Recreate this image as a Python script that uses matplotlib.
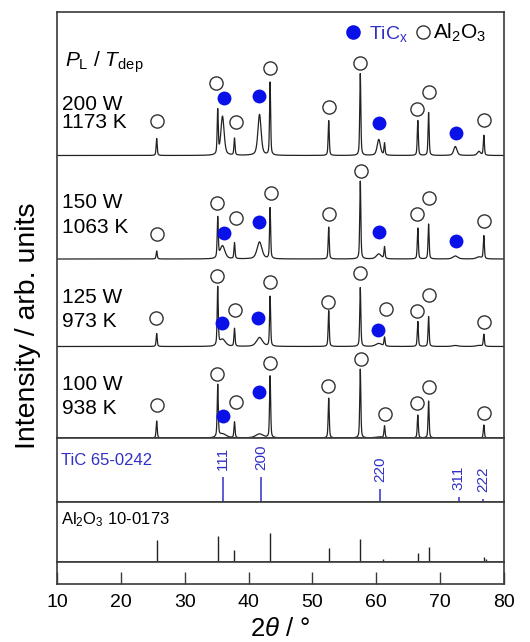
import numpy as np
import matplotlib
matplotlib.use("Agg")
import matplotlib.pyplot as plt

plt.rcParams['font.family'] = ['Liberation Sans', 'DejaVu Sans']
plt.rcParams['mathtext.fontset'] = 'custom'
plt.rcParams['mathtext.rm'] = 'Liberation Sans'
plt.rcParams['mathtext.it'] = 'Liberation Sans:italic'

# peak positions (2theta, deg)
al_angles = [25.58, 35.15, 37.78, 43.36, 52.55, 57.50, 61.30, 66.52, 68.21, 76.87]
tic_angles = [35.9, 41.7, 60.4, 72.4, 76.1]

# sample labels and vertical offsets of each pattern
labels_power = ['200 W', '150 W', '125 W', '100 W']
labels_temp = ['1173 K', '1063 K', '973 K', '938 K']
offsets = [282.5, 179, 91.5, 0]

al_heights = [
    [17, 44, 17, 73, 35, 82, 12, 35, 43, 20],
    [8, 40, 16, 51, 32, 78, 12, 31, 35, 23],
    [13, 58, 18, 50, 36, 59, 9, 25, 30, 12],
    [17, 52, 16, 62, 40, 69, 12, 23, 37, 13],
]
tic_heights = [
    [39, 41, 16, 9, 4],
    [13, 17, 5, 3, 2],
    [7, 9, 3, 1, 1],
    [4, 4, 1, 0, 0],
]
tic_hwhm = [0.3, 0.45, 0.55, 0.7]

# phase markers above the peaks (2theta, height above baseline)
open_x = [
    [25.6, 34.9, 38.0, 43.3, 52.6, 57.5, 66.4, 68.3, 76.9],
    [25.7, 35.1, 38.0, 43.5, 52.6, 57.6, 66.4, 68.3, 76.9],
    [25.5, 35.0, 37.8, 43.3, 52.5, 57.5, 61.6, 66.4, 68.3, 76.9],
    [25.6, 35.0, 38.0, 43.3, 52.5, 57.6, 61.4, 66.4, 68.3, 76.9],
]
open_y = [
    [34.5, 72.8, 33.8, 87.8, 48.2, 92.2, 46.2, 63.2, 35.5],
    [24.7, 55.7, 41.3, 65.7, 44.7, 88.3, 45, 60.7, 38.3],
    [28.2, 70.8, 36.5, 64.8, 44.8, 73.8, 37.2, 35.8, 51.5, 24.8],
    [33, 64, 35.7, 74.7, 52, 79, 23.7, 34.7, 51.3, 24.7],
]
filled_x = [
    [36.2, 41.6, 60.5, 72.5],
    [36.2, 41.6, 60.5, 72.5],
    [35.8, 41.4, 60.2],
    [35.9, 41.6],
]
filled_y = [
    [57.2, 59.8, 32.2, 22.2],
    [26.3, 36.7, 26.7, 18.3],
    [23.8, 28.2, 16.5],
    [22.3, 46.3],
]

# reference cards
tic_ref_angles = [36.0, 41.9, 60.6, 72.9, 76.8]
tic_ref_heights = [25, 25, 12.7, 5, 3]
tic_ref_hkl = ['111', '200', '220', '311', '222']
al_ref_angles = [25.58, 35.15, 37.78, 43.36, 46.18, 52.55, 57.50, 59.74, 61.12, 66.52, 68.21, 70.42, 74.30, 76.87, 77.23]
al_ref_heights = [22, 26, 12, 28.7, 1, 13.7, 23.3, 1.5, 3, 9.3, 15, 1, 1.5, 5.3, 3]

blue = '#0a10e8'
text_blue = '#3030c8'
frame = '#3a3a3a'


def peak(x, c, h, w):
    # pseudo-Voigt profile
    u = ((x - c) / w) ** 2
    return h * (0.5 / (1 + u) + 0.5 * np.exp(-np.log(2) * u))


def pattern(x, i):
    y = np.zeros_like(x)
    for c, h in zip(al_angles, al_heights[i]):
        y += peak(x, c, h, 0.1)
    for c, h in zip(tic_angles, tic_heights[i]):
        y += peak(x, c, h, tic_hwhm[i])
    return y


fig = plt.figure(figsize=(5.3, 6.42), dpi=100)
W, H = 530, 642
left, right = 57.3 / W, 503.8 / W


def add_panel(top_px, bottom_px):
    ax = fig.add_axes([left, 1 - bottom_px / H, right - left, (bottom_px - top_px) / H])
    ax.set_xlim(10, 80)
    for s in ax.spines.values():
        s.set_color(frame)
        s.set_linewidth(1.2)
    ax.set_xticks([])
    ax.set_yticks([])
    return ax


ax = add_panel(12, 438)
ax.set_ylim(0, 426)
x = np.linspace(10, 80, 4001)
for i in range(4):
    ax.plot(x, pattern(x, i) + offsets[i], color='#222222', lw=0.9, zorder=2)
    ax.plot(open_x[i], np.array(open_y[i]) + offsets[i], 'o', ms=9.5, mfc='white',
            mec='#333333', mew=1.0, zorder=3)
    ax.plot(filled_x[i], np.array(filled_y[i]) + offsets[i], 'o', ms=10, color=blue,
            mec='none', zorder=3)

# sample labels
label_y = [(328, 309.7), (230, 205), (135, 111.3), (48, 24)]
for i in range(4):
    ax.text(10.7, label_y[i][0], labels_power[i], fontsize=15, va='baseline')
    ax.text(10.7, label_y[i][1], labels_temp[i], fontsize=15, va='baseline')
ax.text(11.2, 371, r'$P_\mathregular{L}$ / $T_\mathregular{dep}$', fontsize=15, va='baseline')

# phase legend
ax.plot([56.4], [406.3], 'o', ms=10.5, color=blue, mec='none')
ax.text(58.8, 399.5, r'TiC$_\mathregular{x}$', fontsize=14, color=text_blue, va='baseline')
ax.plot([67.4], [406.3], 'o', ms=9.5, mfc='white', mec='#333333', mew=1.0)
ax.text(68.9, 399.5, r'Al$_\mathregular{2}$O$_\mathregular{3}$', fontsize=15, va='baseline')

# TiC reference
ax_t = add_panel(438, 502)
ax_t.set_ylim(0, 64)
ax_t.vlines(tic_ref_angles, 0, tic_ref_heights, color=text_blue, lw=1.1)
for a, h, hkl in zip(tic_ref_angles, tic_ref_heights, tic_ref_hkl):
    ax_t.annotate(hkl, (a, h), xytext=(0, 5), textcoords='offset points', rotation=90,
                  ha='center', va='bottom', fontsize=11, color=text_blue)
ax_t.text(10.6, 37, 'TiC 65-0242', fontsize=12, color=text_blue, va='baseline')

# Al2O3 reference
ax_a = add_panel(502, 562)
ax_a.set_ylim(0, 60)
ax_a.vlines(al_ref_angles, 0, al_ref_heights, color='#222222', lw=1.0)
ax_a.text(10.6, 38, r'Al$_\mathregular{2}$O$_\mathregular{3}$ 10-0173', fontsize=12, va='baseline')

# axis strip
ax_x = add_panel(562, 584)
ax_x.set_ylim(0, 1)
ax_x.set_xticks(np.arange(10, 81, 10))
ax_x.tick_params(axis='x', direction='in', length=8.6, width=1.0, color=frame,
                 labelsize=14, pad=7)

fig.text(0.5295, 1 - 636 / H, r'$2\theta$ / °', fontsize=18.5, ha='center', va='baseline')
fig.text(28 / W, 1 - 326 / H, 'Intensity / arb. units', fontsize=20.5, rotation=90,
         ha='center', va='center')

fig.savefig('out.png', dpi=100)
